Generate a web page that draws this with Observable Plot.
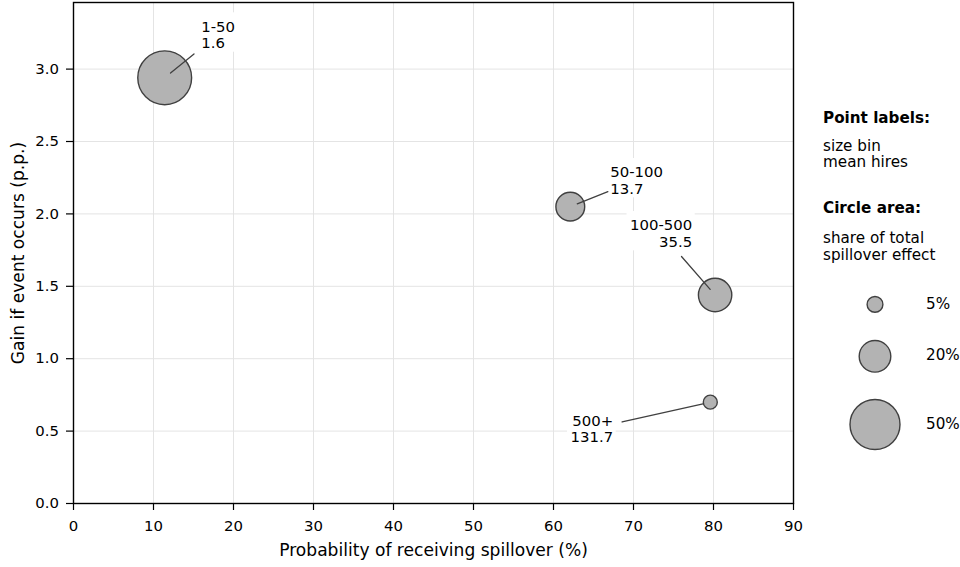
<!DOCTYPE html>
<html>
<head>
<meta charset="utf-8">
<script src="https://cdn.jsdelivr.net/npm/d3@7"></script>
<script src="https://cdn.jsdelivr.net/npm/@observablehq/plot@0.6"></script>
<style>
  html, body { margin: 0; padding: 0; background: #fff; }
  body { font-family: "DejaVu Sans", sans-serif; color: #000; }
  #wrap { display: flex; width: 960px; height: 567px; overflow: hidden; }
  #legend { width: 137px; padding-left: 13px; font-size: 15.2px; line-height: 16.4px; }
  #legend .ttl { font-weight: bold; }
  .size-row { display: flex; align-items: center; }
  .size-row svg { display: block; }
</style>
</head>
<body>
<div id="wrap">
  <div id="chart"></div>
  <div id="legend">
    <div class="ttl" style="margin-top:110px">Point labels:</div>
    <div style="margin-top:11.5px">size bin<br>mean hires</div>
    <div class="ttl" style="margin-top:29.5px">Circle area:</div>
    <div style="margin-top:13.5px">share of total<br>spillover effect</div>
    <div id="sizes" style="margin-top:19px"></div>
  </div>
</div>
<script>
// Firm size bins and their spillover statistics
const sizeBins = ["1-50", "50-100", "100-500", "500+"];
const meanHires = [1.6, 13.7, 35.5, 131.7];
const spilloverProb = [11.4, 62.1, 80.2, 79.6];   // probability of receiving spillover (%)
const gainPP = [2.94, 2.05, 1.44, 0.70];           // gain if event occurs (p.p.)
const effectShare = [58, 16.6, 22.3, 3.9];         // share of total spillover effect (%)

// Reference sizes shown in the circle-area key
const legendShares = [5, 20, 50];

// Axis ticks
const xTicks = d3.range(0, 91, 10);
const yTicks = [0, 0.5, 1.0, 1.5, 2.0, 2.5, 3.0];

// Where each point label sits (data units) and how its lines align
const labelProb = [15.96, 67.1, 77.34, 67.46];
const labelGain = [3.239, 2.233, 1.867, 0.516];
const labelAlign = ["start", "start", "end", "end"];

// Layout
const W = 810, H = 567;
const M = {top: 2, right: 17, bottom: 64, left: 73};
const xDomain = [0, 90], yDomain = [0, 3.46];
const FONT = 14.9, TITLE_FONT = 17.1, LINE_H = 1.12;
const rScale = {type: "sqrt", domain: [0, 50], range: [0, 25]};
const FILL = "#b3b3b3", EDGE = "#404040";

const pxPerX = (W - M.left - M.right) / (xDomain[1] - xDomain[0]);
const pxPerY = (H - M.top - M.bottom) / (yDomain[1] - yDomain[0]);

// Text measurement for label boxes
const ctx = document.createElement("canvas").getContext("2d");
ctx.font = `${FONT}px "DejaVu Sans"`;
const PAD = 3;

const rows = sizeBins.map((bin, i) => {
  const l1 = bin, l2 = meanHires[i].toFixed(1);
  const w = Math.max(ctx.measureText(l1).width, ctx.measureText(l2).width);
  const lx = labelProb[i], ly = labelGain[i], align = labelAlign[i];
  const left = align === "start" ? lx : lx - w / pxPerX;
  const right = align === "start" ? lx + w / pxPerX : lx;
  const halfH = (2 * LINE_H * FONT) / 2;
  return {
    bin, hires: meanHires[i], prob: spilloverProb[i], gain: gainPP[i], share: effectShare[i],
    text: `${l1}\n${l2}`, lx, ly, align,
    cx: (left + right) / 2,
    bx1: left - PAD / pxPerX, bx2: right + PAD / pxPerX,
    by1: ly - (halfH + PAD - 2) / pxPerY, by2: ly + (halfH + PAD + 2) / pxPerY
  };
});

const chart = Plot.plot({
  width: W,
  height: H,
  marginTop: M.top, marginRight: M.right, marginBottom: M.bottom, marginLeft: M.left,
  style: {fontFamily: "DejaVu Sans", fontSize: `${FONT}px`, background: "white", color: "black", overflow: "visible"},
  x: {domain: xDomain},
  y: {domain: yDomain},
  r: rScale,
  marks: [
    Plot.gridX(xTicks, {stroke: "#e4e4e4", strokeOpacity: 1, strokeWidth: 1}),
    Plot.gridY(yTicks, {stroke: "#e4e4e4", strokeOpacity: 1, strokeWidth: 1}),
    // white boxes behind the point labels
    Plot.rect(rows, {x1: "bx1", x2: "bx2", y1: "by1", y2: "by2", fill: "white"}),
    Plot.dot(rows, {x: "prob", y: "gain", r: "share", fill: FILL, stroke: EDGE, strokeWidth: 1.4}),
    // leader lines from each circle toward its label
    Plot.arrow(rows, {
      x1: "prob", y1: "gain", x2: "cx", y2: "ly",
      headLength: 0, insetStart: 7.5, insetEnd: 31,
      stroke: EDGE, strokeWidth: 1.3
    }),
    Plot.text(rows.filter(d => d.align === "start"), {
      x: "lx", y: "ly", text: "text", textAnchor: "start", lineAnchor: "middle",
      lineHeight: LINE_H, fontSize: FONT, fill: "black"
    }),
    Plot.text(rows.filter(d => d.align === "end"), {
      x: "lx", y: "ly", text: "text", textAnchor: "end", lineAnchor: "middle",
      lineHeight: LINE_H, fontSize: FONT, fill: "black"
    }),
    Plot.frame({stroke: "black", strokeWidth: 1.4}),
    Plot.axisX(xTicks, {tickSize: 7, tickPadding: 10, fontSize: FONT, label: null, strokeWidth: 1.2}),
    Plot.axisY(yTicks, {tickSize: 7, tickPadding: 7.5, fontSize: FONT, label: null, tickFormat: d3.format(".1f"), strokeWidth: 1.2}),
    Plot.text(["Probability of receiving spillover (%)"], {
      frameAnchor: "bottom", textAnchor: "middle", lineAnchor: "middle", dy: 47.3, fontSize: TITLE_FONT, fill: "black"
    }),
    Plot.text(["Gain if event occurs (p.p.)"], {
      frameAnchor: "left", textAnchor: "middle", lineAnchor: "middle", rotate: -90, dx: -55, fontSize: TITLE_FONT, fill: "black"
    })
  ]
});
document.getElementById("chart").append(chart);

// Circle-area key, drawn with the same radius scale
const sizes = document.getElementById("sizes");
const rOf = d3.scaleSqrt().domain(rScale.domain).range(rScale.range);
for (const s of legendShares) {
  const h = 2 * rOf(s) + 28;
  const row = document.createElement("div");
  row.className = "size-row";
  row.style.height = `${h}px`;
  const key = Plot.plot({
    width: 103, height: h,
    margin: 0,
    style: {background: "transparent", overflow: "visible"},
    r: rScale,
    marks: [Plot.dot([s], {r: d => d, frameAnchor: "middle", fill: FILL, stroke: EDGE, strokeWidth: 1.4})]
  });
  const label = document.createElement("span");
  label.textContent = `${s}%`;
  row.append(key, label);
  sizes.append(row);
}
</script>
</body>
</html>
